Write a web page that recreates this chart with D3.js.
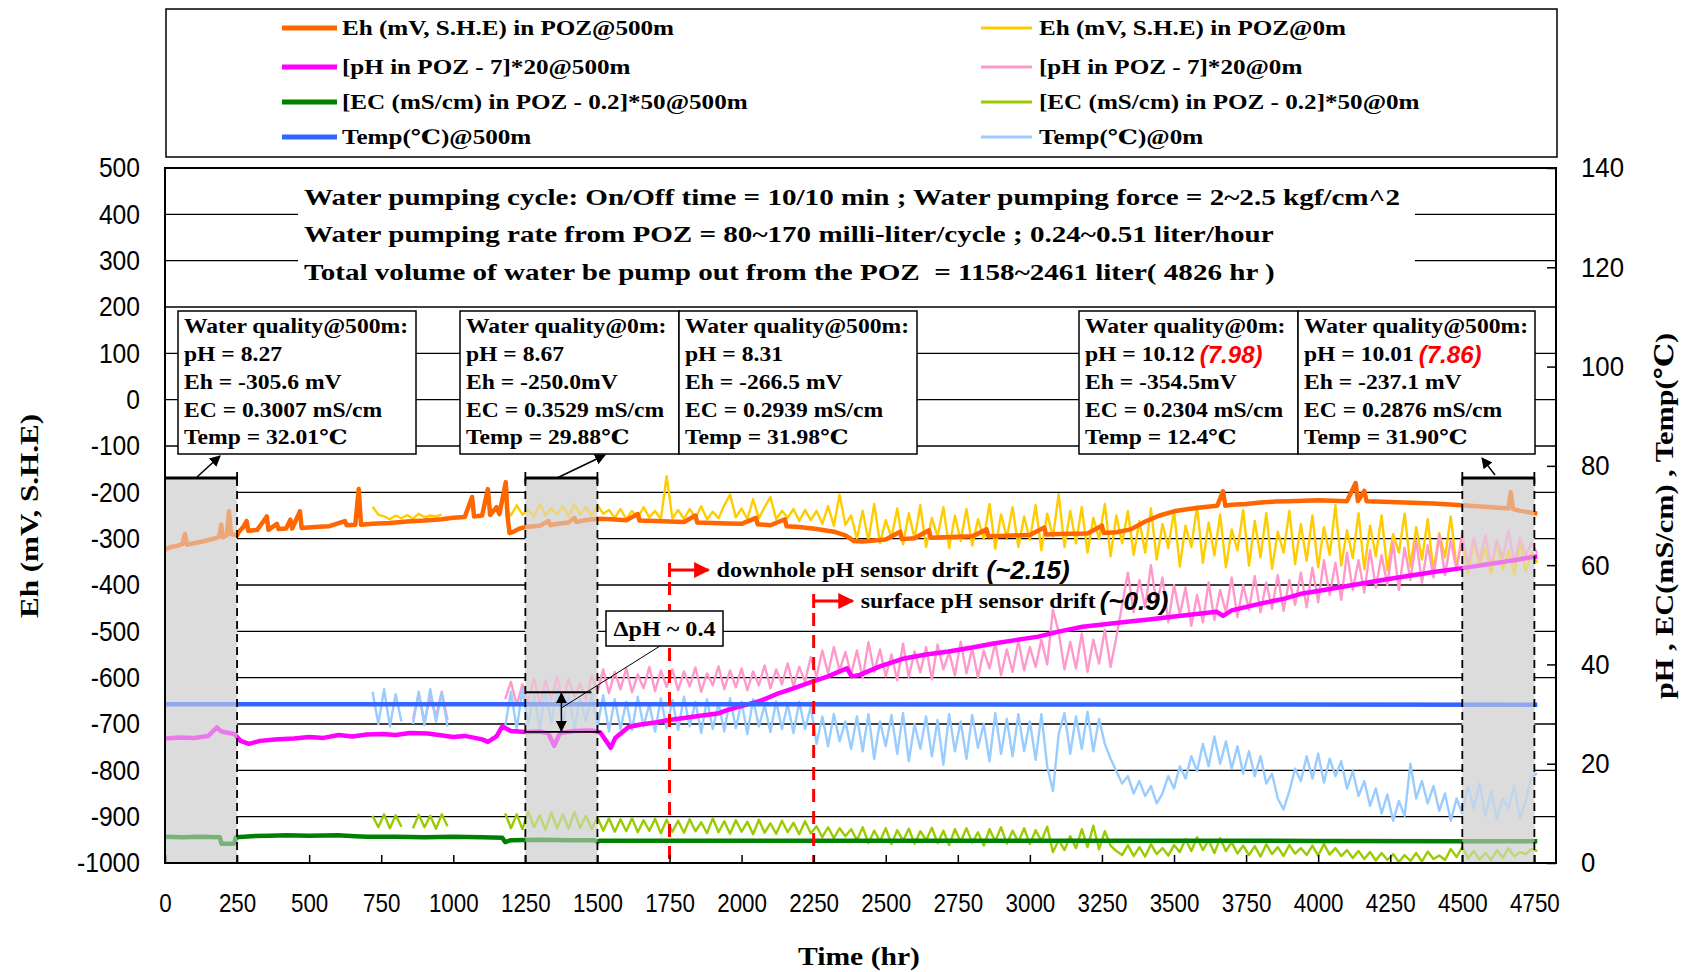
<!DOCTYPE html>
<html>
<head>
<meta charset="utf-8">
<title>POZ water quality monitoring</title>
<script src="https://cdn.jsdelivr.net/npm/d3@7"></script>
<style>
  html, body { margin: 0; padding: 0; background: #fff; }
  svg { display: block; }
  text { white-space: pre; }
</style>
</head>
<body>
<svg id="chart" width="1686" height="972"></svg>
<script>
// ---------------- axis ticks ----------------
const hourTicks = [0,250,500,750,1000,1250,1500,1750,2000,2250,2500,2750,3000,3250,3500,3750,4000,4250,4500,4750];
const ehTicks = [-1000,-900,-800,-700,-600,-500,-400,-300,-200,-100,0,100,200,300,400,500];
const rightTicks = [0,20,40,60,80,100,120,140];

// ---------------- series labels / colours ----------------
const labels500 = ["Eh (mV, S.H.E) in POZ@500m", "[pH in POZ - 7]*20@500m", "[EC (mS/cm) in POZ - 0.2]*50@500m", "Temp(℃)@500m"];
const labels0 = ["Eh (mV, S.H.E) in POZ@0m", "[pH in POZ - 7]*20@0m", "[EC (mS/cm) in POZ - 0.2]*50@0m", "Temp(℃)@0m"];
const colors500 = ["#FF6600", "#FF00FF", "#008000", "#3366FF"];
const colors0 = ["#FFCC00", "#FF99CC", "#99CC00", "#99CCFF"];

// ---------------- downhole (500 m) records: [hour, value] ----------------
const eh500 = [[0,-324],[20,-318],[40,-316],[60,-312],[69,-290],[76,-313],[100,-310],[130,-306],[150,-303],[170,-300],[188,-296],[195,-270],[201,-297],[215,-292],[222,-241],[229,-290],[250,-293],
  [256,-285],[270,-276],[283,-262],[289,-283],[320,-281],[353,-252],[359,-281],[388,-268],[394,-279],[420,-278],[435,-259],[441,-278],[468,-241],[474,-277],[520,-275],[570,-273],[624,-262],[630,-271],[660,-270],[672,-193],[680,-270],[720,-268],[780,-266],[840,-263],[900,-261],[960,-258],[1000,-255],[1040,-253],[1065,-210],[1072,-252],[1100,-250],[1120,-193],[1128,-249],[1150,-232],[1160,-247],[1182,-178],[1188,-250],[1195,-288],[1205,-286],[1230,-278],[1250,-275],[1300,-272],[1330,-262],[1336,-271],[1350,-269],[1400,-265],[1420,-255],[1426,-264],[1450,-261],[1500,-257],
  [1550,-258],[1600,-260],[1640,-247],[1646,-261],[1700,-262],[1750,-263],[1800,-264],[1840,-250],[1846,-265],[1900,-266],[1950,-267],[2000,-268],[2050,-255],[2056,-269],[2100,-271],[2150,-258],[2156,-273],[2200,-275],[2260,-279],[2320,-285],[2360,-293],[2390,-305],[2420,-306],[2500,-302],[2550,-285],[2556,-301],[2600,-299],[2650,-282],[2656,-298],[2700,-297],[2800,-295],[2850,-280],[2856,-295],[2900,-294],[3000,-292],[3050,-276],[3056,-291],[3100,-290],[3200,-289],[3250,-272],[3256,-288],[3300,-286],[3350,-280],[3400,-263],[3450,-250],[3500,-241],[3550,-236],[3600,-232],[3650,-229],[3670,-198],[3678,-229],[3700,-227],[3750,-225],[3800,-222],[3850,-220],[3900,-219],[3950,-218],[4000,-217],[4050,-218],[4100,-219],[4130,-180],[4138,-219],[4160,-197],[4168,-219],[4200,-220],[4300,-222],[4400,-224],[4500,-228],[4600,-232],[4660,-235],[4668,-200],[4676,-236],[4700,-240],[4760,-246]];

const ph500 = [[0,25.1],[50,25.3],[100,25.2],[150,25.6],[180,27.3],[195,26.5],[240,26.0],[262,24.6],[291,24.0],[330,24.6],[380,24.9],[447,25.1],[500,25.4],[550,25.2],[602,25.8],[650,25.5],[700,25.9],[756,26.0],[800,25.8],[850,26.2],[912,26.1],[950,25.8],[1000,25.4],[1040,25.6],[1066,25.3],[1100,24.9],[1120,24.4],[1150,25.5],[1170,27.5],[1200,26.6],[1250,26.4],[1300,26.5],[1330,26.1],[1350,23.6],[1370,26.2],[1420,26.6],[1480,26.7],[1510,26.3],[1530,24.6],[1546,23.2],[1562,25.2],[1608,27.4],[1650,27.9],[1700,28.3],[1748,28.8],[1800,29.2],[1850,29.6],[1917,30.1],[1950,30.8],[2000,31.6],[2072,32.8],[2120,34.0],[2180,35.2],[2243,36.5],[2300,37.6],[2340,38.6],[2366,39.2],[2382,37.6],[2410,37.9],[2480,39.6],[2564,41.2],[2640,42.0],[2718,42.6],[2800,43.4],[2874,44.2],[2950,44.9],[3029,45.6],[3100,46.6],[3183,47.6],[3260,48.1],[3338,48.6],[3420,49.1],[3493,49.6],[3570,50.1],[3648,50.6],[3670,49.8],[3700,50.9],[3803,52.3],[3880,53.2],[3946,54.3],[4020,55.0],[4100,55.8],[4223,57.0],[4300,57.7],[4400,58.6],[4500,59.4],[4600,60.3],[4700,61.2],[4760,61.8]];

const ec500 = [[0,5.3],[60,5.2],[120,5.3],[190,5.2],[196,3.9],[240,3.9],[246,5.2],[300,5.4],[360,5.5],[420,5.6],[500,5.5],[600,5.6],[660,5.4],[700,5.3],[800,5.3],[900,5.2],[1000,5.3],[1100,5.2],[1170,5.1],[1180,4.2],[1200,4.6],[1300,4.7],[1400,4.6],[1490,4.6],[1500,4.3],[1510,4.5],[2000,4.5],[2500,4.5],[3000,4.5],[3500,4.5],[4000,4.45],[4500,4.4],[4760,4.4]];

const temp500 = [[0,32.0],[1500,32.0],[3000,31.95],[4760,31.9]];

// ---------------- surface (0 m) records, logged every 20 h from hour 700 ----------------
const surfaceStart = 700;
const surfaceStep = 20;

const eh0 = [null,
  -231,-248,-252,-258,-250,-256,-249,-257,-246,-254,-250,-252,-248,
  null,
  null,null,null,null,null,null,null,null,null,
  -232,-250,-228,-248,-238,-252,-226,-250,-235,-248,
  -230,-252,-226,-248,-232,-250,-228,-246,-238,-255,
  -236,-258,-240,-256,-232,-254,-240,-258,-165,-256,
  -238,-257,-236,-255,-230,-258,-242,-256,-228,-205,
  -254,-235,-258,-215,-256,-232,-210,-258,-240,-255,
  -236,-262,-238,-260,-240,-268,-230,-272,-205,-270,
  -250,-300,-240,-305,-225,-310,-260,-298,-235,-312,
  -245,-300,-228,-318,-255,-296,-232,-320,-250,-305,
  -236,-315,-258,-300,-225,-322,-248,-298,-232,-318,
  -252,-302,-228,-325,-246,-296,-204,-318,-240,-310,
  -232,-330,-255,-300,-225,-338,-250,-310,-240,-335,
  -262,-330,-235,-345,-268,-320,-240,-360,-272,-318,
  -230,-352,-265,-336,-248,-362,-280,-325,-238,-358,
  -262,-340,-245,-365,-285,-330,-240,-355,-268,-348,
  -250,-362,-275,-335,-228,-358,-282,-342,-245,-366,
  -272,-338,-250,-368,-290,-330,-246,-360,-275,-345,
  -258,-372,-288,-340,-252,-362,-300,-375,-305,-360,
  -320,-375,-305,-368,-325,-378,-310,-370,-330,-352];

const ph0 = [null,
  null,null,null,null,null,null,
  null,
  29.0,34.0,28.5,33.5,29.5,34.5,28.8,
  null,null,null,null,null,null,null,null,null,
  33.0,36.5,31.8,36.0,32.5,37.2,32.0,36.8,33.0,37.5,
  32.6,37.0,33.5,36.2,32.8,37.8,34.5,39.0,34.2,38.5,
  35.0,39.2,34.4,38.0,35.2,39.5,34.6,38.8,35.5,39.0,
  34.8,38.6,35.6,39.4,34.5,38.2,35.8,39.6,35.0,38.8,
  35.4,39.2,34.8,38.6,35.8,39.8,35.2,39.0,36.0,40.2,
  35.6,39.5,36.5,41.5,37.5,42.8,38.2,43.5,38.8,42.5,
  38.0,42.8,37.2,44.5,38.5,43.0,37.6,42.0,36.8,44.2,
  37.5,42.6,38.4,43.5,37.0,44.0,39.0,42.5,37.8,44.6,
  38.2,43.2,37.4,42.8,39.2,44.4,37.8,43.0,38.5,44.8,
  38.8,43.5,39.5,45.0,40.0,51.0,46.5,39.0,44.5,39.2,
  46.2,38.5,45.0,40.2,47.0,39.5,45.5,52.0,58.5,50.5,
  57.0,51.5,60.0,52.0,57.5,48.5,56.0,50.0,55.5,47.8,
  54.0,48.5,56.5,49.0,55.0,50.5,57.5,49.5,56.0,51.0,
  57.8,50.5,56.5,51.2,58.0,50.8,57.0,52.0,58.5,51.5,
  59.5,52.5,61.0,54.0,60.5,53.0,62.5,55.0,61.0,54.5,
  63.0,55.5,62.0,56.0,64.5,55.0,63.5,57.0,65.0,56.5,
  64.0,57.5,66.0,58.0,65.0,59.0,66.5,60.0,65.5,61.0,
  66.0,60.0,65.0,61.5,67.0,60.5,65.5,62.0,64.5,62.4];

const ec0 = [null,
  9.5,7.2,9.8,7.0,9.6,7.3,
  null,
  7.0,9.7,7.2,9.5,6.9,9.8,7.4,
  null,null,null,null,null,null,null,null,null,
  10.0,7.0,9.8,6.8,10.4,7.2,9.6,6.7,10.2,7.0,
  9.8,6.9,10.3,7.1,9.5,6.8,9.2,6.5,9.0,6.3,
  8.8,6.4,9.0,6.2,8.6,6.5,8.9,6.0,8.7,6.3,
  8.5,6.1,8.8,6.4,8.2,6.0,9.0,6.2,8.4,5.9,
  8.6,6.3,8.3,5.8,8.7,6.1,8.0,5.9,8.5,6.2,
  8.1,5.8,8.4,6.0,7.4,5.2,7.2,5.0,7.0,5.4,
  6.8,4.6,7.2,4.0,6.5,4.4,7.0,3.8,6.6,4.5,
  6.9,3.9,6.4,4.6,7.1,4.0,6.5,3.6,6.8,4.3,
  7.0,4.1,6.2,3.5,6.8,4.4,7.2,3.9,6.5,4.2,
  7.0,3.8,6.6,4.4,7.3,2.2,4.6,2.6,5.4,3.0,
  6.8,3.2,7.5,2.8,6.4,3.5,2.4,1.6,3.6,1.4,
  3.2,1.3,3.8,1.8,3.0,1.5,3.6,2.2,4.8,2.4,
  5.2,2.6,4.6,2.0,5.0,2.4,4.2,1.9,3.5,1.6,
  3.4,1.3,3.8,1.8,3.2,1.4,3.6,1.9,3.0,1.6,
  3.5,1.5,3.8,1.7,3.0,1.4,2.6,1.0,2.4,0.8,
  2.2,0.5,2.0,0.6,1.8,0.2,1.6,0.4,2.0,0.3,
  2.3,0.8,1.5,0.6,2.8,1.2,3.2,0.9,2.4,0.7,
  2.0,0.6,2.6,1.0,3.0,1.3,2.2,1.8,2.8,2.4];

const temp0 = [null,
  34.5,28.0,35.0,27.5,34.0,28.5,
  null,
  28.0,34.5,27.8,35.0,28.5,34.2,27.5,
  null,null,null,null,null,null,null,null,null,
  27.5,34.5,27.0,35.0,28.0,34.0,27.2,34.8,28.2,35.0,
  27.8,34.2,27.0,33.5,28.5,34.0,27.5,33.8,26.5,33.0,
  27.0,32.5,26.8,33.5,27.5,32.0,26.5,33.2,27.2,32.8,
  26.8,33.5,27.5,32.5,26.2,33.0,27.0,32.2,26.5,33.2,
  27.2,32.5,26.0,33.0,27.5,31.8,26.4,32.6,27.0,32.0,
  26.2,32.5,27.0,31.5,24.0,29.5,23.5,30.0,24.5,28.5,
  23.0,29.5,22.5,30.0,21.0,28.5,23.5,29.8,22.0,30.2,
  20.5,28.0,23.0,29.5,21.5,28.8,19.8,30.0,22.5,28.5,
  21.0,29.8,23.2,28.0,20.5,30.2,22.0,29.0,21.5,30.0,
  22.5,28.5,20.8,30.0,19.5,14.5,26.0,30.2,22.0,29.5,
  23.0,30.5,22.5,29.0,24.0,21.0,18.5,16.0,17.5,14.0,
  16.5,13.5,15.5,12.0,14.0,17.5,15.0,19.5,17.0,21.5,
  18.5,24.0,19.5,25.5,20.0,24.5,19.0,23.5,18.0,22.5,
  17.5,21.5,16.0,18.0,13.0,10.8,14.5,19.0,16.5,21.5,
  17.0,22.0,16.2,21.0,17.5,20.5,15.0,18.5,13.5,16.5,
  11.5,15.0,10.0,13.8,8.5,12.5,9.5,20.0,13.0,16.5,
  12.0,15.5,10.5,14.0,8.5,13.0,10.0,15.5,11.0,16.0,
  9.5,14.5,8.8,13.0,11.0,15.5,9.0,12.5,17.5,18.0];

// ---------------- annotations ----------------
const shadedSpans = [[0,250],[1250,1500],[4500,4750]];
const driftHours = [1750, 2250];
const driftLabels = ["downhole pH sensor drift", "surface pH sensor drift"];
const driftAmounts = ["(~2.15)", "(~0.9)"];
const pumpingNotes = [
  "Water pumping cycle: On/Off time = 10/10 min ; Water pumping force = 2~2.5 kgf/cm^2",
  "Water pumping rate from POZ = 80~170 milli-liter/cycle ; 0.24~0.51 liter/hour",
  "Total volume of water be pump out from the POZ  = 1158~2461 liter( 4826 hr )"
];
const qualityText = [
  ["Water quality@500m:", "pH = 8.27", "Eh = -305.6 mV", "EC = 0.3007 mS/cm", "Temp = 32.01℃"],
  ["Water quality@0m:", "pH = 8.67", "Eh = -250.0mV", "EC = 0.3529 mS/cm", "Temp = 29.88℃"],
  ["Water quality@500m:", "pH = 8.31", "Eh = -266.5 mV", "EC = 0.2939 mS/cm", "Temp = 31.98℃"],
  ["Water quality@0m:", "pH = 10.12", "Eh = -354.5mV", "EC = 0.2304 mS/cm", "Temp = 12.4℃"],
  ["Water quality@500m:", "pH = 10.01", "Eh = -237.1 mV", "EC = 0.2876 mS/cm", "Temp = 31.90℃"]
];
const correctedPH = [null, null, null, "(7.98)", "(7.86)"];
const deltaPH = {top: 34.4, bottom: 26.4, label: "ΔpH ~ 0.4"};

// ---------------- layout ----------------
const W = 1686, H = 972;
const X0 = 165, X1 = 1556, Y0 = 168, Y1 = 863;
const SERIF = '"Liberation Serif","DejaVu Serif","Noto Sans CJK SC",serif';
const SANS = '"Liberation Sans","DejaVu Sans",sans-serif';

const svg = d3.select("#chart");
const x = d3.scaleLinear().domain([0, 4825]).range([X0, X1]);
const yEh = d3.scaleLinear().domain([-1000, 500]).range([Y1, Y0]);
const yR = d3.scaleLinear().domain([0, 140]).range([Y1, Y0]);

function measureAndScale(sel, k) {
  const widths = [];
  sel.each(function () { widths.push(this.getComputedTextLength()); });
  sel.each(function (d, i) {
    d3.select(this).attr("textLength", widths[i] * k).attr("lengthAdjust", "spacingAndGlyphs");
  });
  return widths;
}
function factorFor(node, target) { return target / node.getComputedTextLength(); }

// arrow heads
const defs = svg.append("defs");
function arrowMarker(id, color, size) {
  defs.append("marker").attr("id", id).attr("viewBox", "0 0 10 10")
    .attr("refX", 9).attr("refY", 5).attr("markerWidth", size).attr("markerHeight", size)
    .attr("markerUnits", "userSpaceOnUse").attr("orient", "auto-start-reverse")
    .append("path").attr("d", "M0,0 L10,5 L0,10 z").attr("fill", color);
}
arrowMarker("arrBlack", "#000", 11);
arrowMarker("arrRed", "#FF0000", 16);

svg.append("rect").attr("width", W).attr("height", H).attr("fill", "#fff");

// ---------------- legend ----------------
const legend = svg.append("g");
legend.append("rect").attr("x", 166).attr("y", 9).attr("width", 1391).attr("height", 148)
  .attr("fill", "#fff").attr("stroke", "#000").attr("stroke-width", 1.5);
const legendRows = [28, 67, 102, 137];
const legendCols = [
  {x1: 282, x2: 337, tx: 342, labels: labels500, colors: colors500, w: 5},
  {x1: 981, x2: 1032, tx: 1039, labels: labels0, colors: colors0, w: 3}
];
legendCols.forEach(col => {
  col.labels.forEach((lab, i) => {
    legend.append("line").attr("x1", col.x1).attr("x2", col.x2)
      .attr("y1", legendRows[i]).attr("y2", legendRows[i])
      .attr("stroke", col.colors[i]).attr("stroke-width", col.w);
    legend.append("text").attr("class", "legText").attr("x", col.tx).attr("y", legendRows[i])
      .attr("dominant-baseline", "central").attr("font-family", SERIF)
      .attr("font-weight", "bold").attr("font-size", 20).text(lab);
  });
});
const legTexts = legend.selectAll(".legText");
measureAndScale(legTexts, factorFor(legTexts.node(), 332));

// ---------------- plot background + grid ----------------
svg.append("rect").attr("x", X0).attr("y", Y0).attr("width", X1 - X0).attr("height", Y1 - Y0).attr("fill", "#fff");
svg.append("g").selectAll("line").data(ehTicks.filter(v => v > -1000 && v < 500)).join("line")
  .attr("x1", X0).attr("x2", X1).attr("y1", d => yEh(d)).attr("y2", d => yEh(d))
  .attr("stroke", "#000").attr("stroke-width", 1.3);

const SHADE_TOP = 478;
svg.append("g").selectAll("rect").data(shadedSpans).join("rect")
  .attr("x", d => x(d[0])).attr("width", d => x(d[1]) - x(d[0]))
  .attr("y", SHADE_TOP).attr("height", Y1 - SHADE_TOP).attr("fill", "#dcdcdc");

// pumping notes
svg.append("rect").attr("x", 298).attr("y", 173).attr("width", 1117).attr("height", 128).attr("fill", "#fff");
const notes = svg.append("g").selectAll("text").data(pumpingNotes).join("text")
  .attr("x", 304).attr("y", (d, i) => [197, 234, 272][i]).attr("dominant-baseline", "central")
  .attr("font-family", SERIF).attr("font-size", 24).attr("font-weight", "bold").text(d => d);
measureAndScale(notes, factorFor(notes.node(), 1096));

// water-quality boxes
const boxLeft = [178, 460, 679, 1079, 1298];
const boxRight = [416, 679, 917, 1298, 1535];
const lineY = [326, 354, 382, 410, 437];
const boxes = svg.append("g");
boxLeft.forEach((bx, i) => {
  boxes.append("rect").attr("x", bx).attr("y", 311).attr("width", boxRight[i] - bx).attr("height", 143)
    .attr("fill", "#fff").attr("stroke", "#000").attr("stroke-width", 1.5);
});
let boxK = null;
qualityText.forEach((lines, i) => {
  const t = boxes.selectAll(null).data(lines).join("text").attr("class", "qt")
    .attr("x", boxLeft[i] + 6).attr("y", (d, j) => lineY[j]).attr("dominant-baseline", "central")
    .attr("font-family", SERIF).attr("font-weight", "bold").attr("font-size", 20).text(d => d);
  if (boxK === null) boxK = factorFor(t.node(), 224);
  const widths = measureAndScale(t, boxK);
  if (correctedPH[i]) {
    boxes.append("text").attr("x", boxLeft[i] + 6 + widths[1] * boxK + 5).attr("y", lineY[1])
      .attr("dominant-baseline", "central").attr("font-family", SANS).attr("font-weight", "bold")
      .attr("font-style", "italic").attr("font-size", 24).attr("fill", "#FF0000").text(correctedPH[i]);
  }
});

// ---------------- data lines ----------------
const plot = svg.append("g");
function surfaceSeries(values) { return values.map((v, i) => [surfaceStart + i * surfaceStep, v]); }
function drawLine(data, yScale, color, width) {
  plot.append("path").datum(data)
    .attr("d", d3.line().defined(d => d[1] !== null).x(d => x(d[0])).y(d => yScale(d[1])))
    .attr("fill", "none").attr("stroke", color).attr("stroke-width", width)
    .attr("stroke-linejoin", "round").attr("stroke-linecap", "butt");
}
drawLine(surfaceSeries(eh0), yEh, colors0[0], 2.4);
drawLine(surfaceSeries(ph0), yR, colors0[1], 2.4);
drawLine(surfaceSeries(ec0), yR, colors0[2], 2.4);
drawLine(surfaceSeries(temp0), yR, colors0[3], 2.4);
drawLine(eh500, yEh, colors500[0], 4.5);
drawLine(ph500, yR, colors500[1], 4.5);
drawLine(ec500, yR, colors500[2], 4.5);
drawLine(temp500, yR, colors500[3], 4.5);

// translucent veil over the shaded periods
svg.append("g").selectAll("rect").data(shadedSpans).join("rect")
  .attr("x", d => x(d[0])).attr("width", d => x(d[1]) - x(d[0]))
  .attr("y", SHADE_TOP).attr("height", Y1 - SHADE_TOP).attr("fill", "#dcdcdc").attr("fill-opacity", 0.55);

// dashed bounds, brackets and pointers to the sample boxes
const marks = svg.append("g");
shadedSpans.forEach(s => {
  s.forEach(h => {
    marks.append("line").attr("x1", x(h)).attr("x2", x(h)).attr("y1", SHADE_TOP).attr("y2", Y1)
      .attr("stroke", "#000").attr("stroke-width", 1.8).attr("stroke-dasharray", "8,5");
    marks.append("line").attr("x1", x(h)).attr("x2", x(h)).attr("y1", SHADE_TOP - 6).attr("y2", SHADE_TOP + 6)
      .attr("stroke", "#000").attr("stroke-width", 1.8);
  });
  marks.append("line").attr("x1", x(s[0])).attr("x2", x(s[1])).attr("y1", SHADE_TOP).attr("y2", SHADE_TOP)
    .attr("stroke", "#000").attr("stroke-width", 3);
});
const pointers = [[197, 477, 220, 456], [557, 478, 605, 455], [1495, 475, 1482, 458]];
pointers.forEach(p => {
  marks.append("line").attr("x1", p[0]).attr("y1", p[1]).attr("x2", p[2]).attr("y2", p[3])
    .attr("stroke", "#000").attr("stroke-width", 1.5).attr("marker-end", "url(#arrBlack)");
});

// sensor-drift markers
const driftY = [570, 601];
driftHours.forEach((h, i) => {
  const xx = x(h), yy = driftY[i];
  marks.append("line").attr("x1", xx).attr("x2", xx).attr("y1", yy + 12).attr("y2", Y1)
    .attr("stroke", "#FF0000").attr("stroke-width", 3).attr("stroke-dasharray", "13,9");
  marks.append("line").attr("x1", xx).attr("x2", xx).attr("y1", yy - 7).attr("y2", yy + 7)
    .attr("stroke", "#FF0000").attr("stroke-width", 3);
  marks.append("line").attr("x1", xx).attr("x2", xx + 39).attr("y1", yy).attr("y2", yy)
    .attr("stroke", "#FF0000").attr("stroke-width", 3).attr("marker-end", "url(#arrRed)");
  const t = marks.append("text").attr("x", xx + 47).attr("y", yy).attr("dominant-baseline", "central")
    .attr("font-family", SERIF).attr("font-weight", "bold").attr("font-size", 21).text(driftLabels[i]);
  t.attr("textLength", [262, 235][i]).attr("lengthAdjust", "spacingAndGlyphs");
  marks.append("text").attr("x", xx + 47 + [262, 235][i] + [8, 4][i]).attr("y", yy)
    .attr("dominant-baseline", "central").attr("font-family", SANS).attr("font-weight", "bold")
    .attr("font-style", "italic").attr("font-size", 26).text(driftAmounts[i]);
});

// delta-pH bracket between surface and downhole readings
const dpx = x(1250), dpx2 = x(1500), dpMid = x(1375);
marks.append("line").attr("x1", dpx).attr("x2", dpx2 - 6).attr("y1", yR(deltaPH.top)).attr("y2", yR(deltaPH.top))
  .attr("stroke", "#000").attr("stroke-width", 1.8);
marks.append("line").attr("x1", dpx).attr("x2", dpx2 + 3).attr("y1", yR(deltaPH.bottom)).attr("y2", yR(deltaPH.bottom))
  .attr("stroke", "#000").attr("stroke-width", 1.8);
marks.append("line").attr("x1", dpMid).attr("x2", dpMid).attr("y1", yR(deltaPH.top) + 1).attr("y2", yR(deltaPH.bottom) - 1)
  .attr("stroke", "#000").attr("stroke-width", 1.5)
  .attr("marker-start", "url(#arrBlack)").attr("marker-end", "url(#arrBlack)");
marks.append("line").attr("x1", 660).attr("y1", 646).attr("x2", dpMid).attr("y2", 708)
  .attr("stroke", "#000").attr("stroke-width", 1);
marks.append("rect").attr("x", 606).attr("y", 611).attr("width", 117).attr("height", 35)
  .attr("fill", "#fff").attr("stroke", "#000").attr("stroke-width", 1.5);
marks.append("text").attr("x", 664.5).attr("y", 628.5).attr("text-anchor", "middle")
  .attr("dominant-baseline", "central").attr("font-family", SERIF).attr("font-weight", "bold")
  .attr("font-size", 21).attr("textLength", 102).attr("lengthAdjust", "spacingAndGlyphs").text(deltaPH.label);

// ---------------- axes ----------------
const plainNumber = d => String(d);
function styleTicks(g, size, k) {
  g.select(".domain").remove();
  g.selectAll(".tick line").attr("stroke", "#000").attr("stroke-width", 1.5);
  const t = g.selectAll("text").attr("font-family", SANS).attr("font-size", size).attr("fill", "#000");
  measureAndScale(t, k);
}
const gL = svg.append("g").attr("transform", `translate(${X0},0)`)
  .call(d3.axisLeft(yEh).tickValues(ehTicks).tickFormat(plainNumber).tickSize(0).tickPadding(25));
styleTicks(gL, 28, 0.88);

const gR = svg.append("g").attr("transform", `translate(${X1},0)`)
  .call(d3.axisRight(yR).tickValues(rightTicks).tickFormat(plainNumber).tickSizeInner(-9).tickSizeOuter(0).tickPadding(25));
styleTicks(gR, 28, 0.92);

const gB = svg.append("g").attr("transform", `translate(0,${Y1})`)
  .call(d3.axisBottom(x).tickValues(hourTicks).tickFormat(plainNumber).tickSizeInner(-8).tickSizeOuter(0).tickPadding(31));
styleTicks(gB, 26, 0.86);

// frame
svg.append("rect").attr("x", X0).attr("y", Y0).attr("width", X1 - X0).attr("height", Y1 - Y0)
  .attr("fill", "none").attr("stroke", "#000").attr("stroke-width", 2);

// axis titles
svg.append("text").attr("x", 859).attr("y", 956).attr("text-anchor", "middle").attr("dominant-baseline", "central")
  .attr("font-family", SERIF).attr("font-weight", "bold").attr("font-size", 26)
  .attr("textLength", 122).attr("lengthAdjust", "spacingAndGlyphs").text("Time (hr)");
svg.append("text").attr("transform", "translate(29,516) rotate(-90)").attr("text-anchor", "middle")
  .attr("dominant-baseline", "central").attr("font-family", SERIF).attr("font-weight", "bold").attr("font-size", 26)
  .attr("textLength", 204).attr("lengthAdjust", "spacingAndGlyphs").text("Eh (mV, S.H.E)");
svg.append("text").attr("transform", "translate(1664,516) rotate(-90)").attr("text-anchor", "middle")
  .attr("dominant-baseline", "central").attr("font-family", SERIF).attr("font-weight", "bold").attr("font-size", 26)
  .attr("textLength", 366).attr("lengthAdjust", "spacingAndGlyphs").text("pH , EC(mS/cm) , Temp(℃)");
</script>
</body>
</html>
